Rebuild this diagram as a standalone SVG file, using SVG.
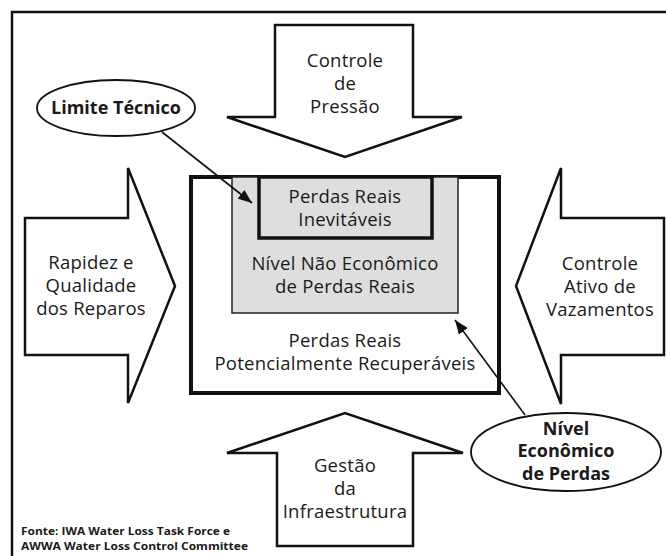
<svg xmlns="http://www.w3.org/2000/svg" width="666" height="556" viewBox="0 0 666 556">
<defs>
<style>
.shape{fill:#fff;stroke:#111;stroke-width:2.5;stroke-linejoin:miter}
.t{font-family:"Open Sans","Noto Sans",sans-serif;font-size:18.5px;letter-spacing:0.25px;fill:#1a1a1a;text-anchor:middle}
.b{font-family:"Open Sans","Noto Sans",sans-serif;font-size:18px;font-weight:bold;fill:#1a1a1a;text-anchor:middle}
.src{font-family:"Open Sans","Noto Sans",sans-serif;font-size:11px;font-weight:bold;fill:#1a1a1a}
.conn{stroke:#111;stroke-width:1.6;fill:none}
</style>
<marker id="ah" viewBox="0 0 10 10" refX="10" refY="5" markerWidth="14" markerHeight="11" markerUnits="userSpaceOnUse" orient="auto" preserveAspectRatio="none">
<path d="M0,0 L10,5 L0,10 z" fill="#111"/>
</marker>
</defs>
<rect x="0" y="0" width="666" height="556" fill="#fff"/>
<g id="frame">
<rect x="12" y="12" width="680" height="580" fill="none" stroke="#111" stroke-width="2.5"/>
</g>
<g id="controle-pressao">
<polygon class="shape" points="275,25 413,25 413,117 462,117 345,157 227,117 275,117"/>
<text class="t"><tspan x="345" y="67">Controle</tspan><tspan x="345" y="90">de</tspan><tspan x="345" y="113">Pressão</tspan></text>
</g>
<g id="rapidez-reparos">
<polygon class="shape" points="25,218 128,218 128,168 175,286 128,403 128,355 25,355"/>
<text class="t"><tspan x="91" y="269">Rapidez e</tspan><tspan x="91" y="292">Qualidade</tspan><tspan x="91" y="315">dos Reparos</tspan></text>
</g>
<g id="controle-ativo">
<polygon class="shape" points="664,218 561,218 561,168 516,286 561,404 561,355 664,355"/>
<text class="t"><tspan x="600" y="270">Controle</tspan><tspan x="600" y="293">Ativo de</tspan><tspan x="600" y="316">Vazamentos</tspan></text>
</g>
<g id="gestao-infraestrutura">
<polygon class="shape" points="277,546 413,546 413,453 463,453 345,413 227,453 277,453"/>
<text class="t"><tspan x="345" y="472">Gestão</tspan><tspan x="345" y="495">da</tspan><tspan x="345" y="518">Infraestrutura</tspan></text>
</g>
<g id="perdas-recuperaveis">
<rect x="191" y="177" width="308" height="216" fill="#fff" stroke="#111" stroke-width="4"/>
<text class="t"><tspan x="345" y="347">Perdas Reais</tspan><tspan x="345" y="370">Potencialmente Recuperáveis</tspan></text>
</g>
<g id="nivel-nao-economico">
<rect x="232" y="177" width="226" height="136" fill="#dedede" stroke="#222" stroke-width="1.5"/>
<text class="t"><tspan x="345" y="270">Nível Não Econômico</tspan><tspan x="345" y="293">de Perdas Reais</tspan></text>
</g>
<g id="perdas-inevitaveis">
<rect x="259" y="177" width="173" height="61" fill="#dedede" stroke="#111" stroke-width="3.5"/>
<text class="t"><tspan x="345" y="203">Perdas Reais</tspan><tspan x="345" y="226">Inevitáveis</tspan></text>
</g>
<g id="connectors">
<line class="conn" x1="162" y1="132" x2="252" y2="203" marker-end="url(#ah)"/>
<line class="conn" x1="525" y1="415" x2="455" y2="320" marker-end="url(#ah)"/>
</g>
<g id="limite-tecnico">
<ellipse cx="116" cy="108" rx="79" ry="28" fill="#fff" stroke="#111" stroke-width="1.8"/>
<text class="b" x="116" y="114">Limite Técnico</text>
</g>
<g id="nivel-economico">
<ellipse cx="566" cy="452" rx="95" ry="39" fill="#fff" stroke="#111" stroke-width="1.8"/>
<text class="b"><tspan x="566" y="435">Nível</tspan><tspan x="566" y="457">Econômico</tspan><tspan x="566" y="480">de Perdas</tspan></text>
</g>
<g id="fonte">
<text class="src" x="21" y="535" textLength="209" lengthAdjust="spacingAndGlyphs">Fonte: IWA Water Loss Task Force e</text>
<text class="src" x="21" y="550" textLength="227" lengthAdjust="spacingAndGlyphs">AWWA Water Loss Control Committee</text>
</g>
</svg>
